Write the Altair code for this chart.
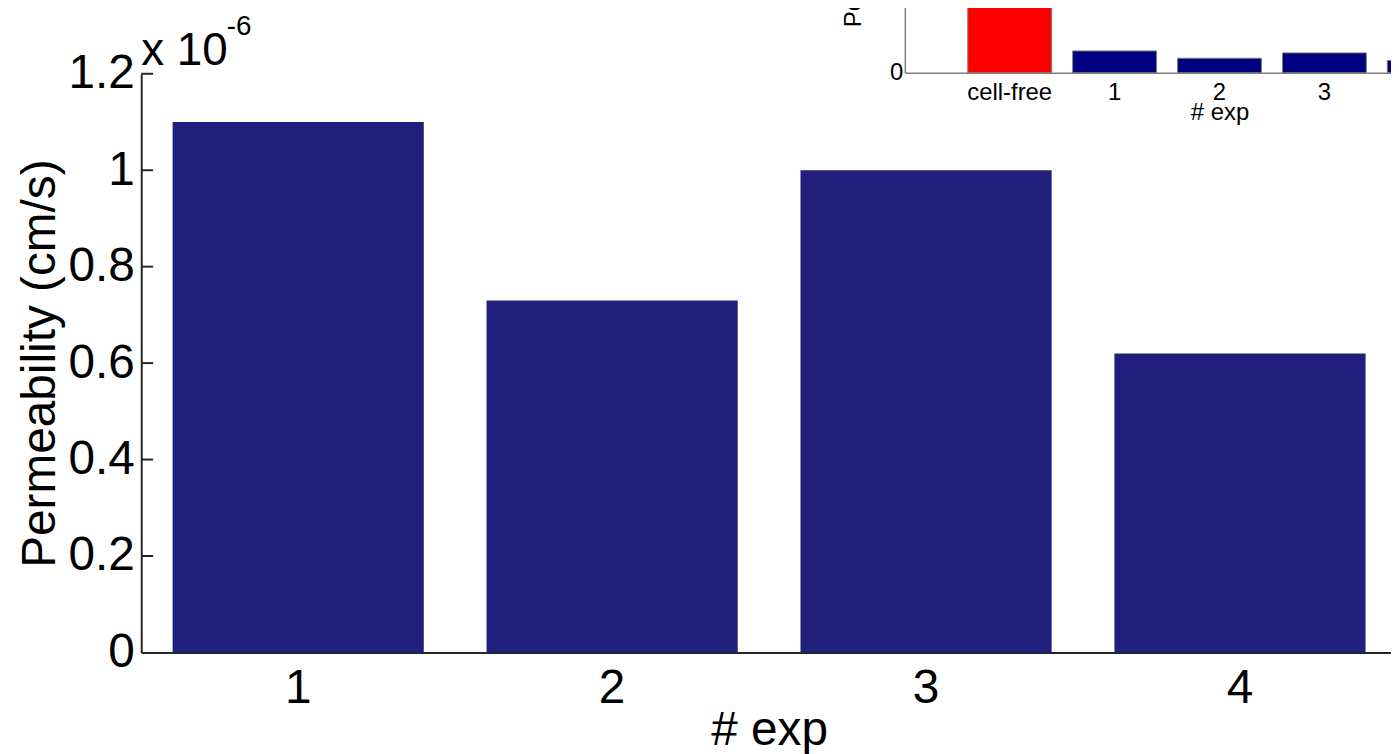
import altair as alt
import pandas as pd

# ---- data (values in units of 1e-6 cm/s) ----
exp_labels = ["1", "2", "3", "4"]
permeability = [1.10, 0.73, 1.00, 0.62]
y_tick_values = [0, 0.2, 0.4, 0.6, 0.8, 1.0, 1.2]

inset_labels = ["cell-free", "1", "2", "3", "4"]
inset_values = [6.5, 1.10, 0.73, 1.00, 0.62]
inset_colors = ["#FF0000", "#000080", "#000080", "#000080", "#000080"]

FONT = "Liberation Sans"
W, H = 1263, 582
AXIS_DARK = "#262626"
AXIS_GREY = "#7f7f7f"

main_df = pd.DataFrame({"exp": exp_labels, "perm": permeability})
tick_df = pd.DataFrame({"perm": y_tick_values[1:]})
mult_df = pd.DataFrame({"perm": [y_tick_values[-1]]})
inset_df = pd.DataFrame({"exp": inset_labels, "perm": inset_values, "color": inset_colors})

xs = alt.Scale(domain=exp_labels, paddingInner=0.2, paddingOuter=0.1)
ys = alt.Scale(domain=[0, 1.2], nice=False, zero=True)

bars = alt.Chart(main_df).mark_bar(color="#201F7C").encode(
    x=alt.X("exp:N", sort=exp_labels, scale=xs,
            axis=alt.Axis(title="# exp", labelAngle=0, labelFontSize=48, labelFont=FONT,
                          labelColor="black", labelPadding=12, ticks=False,
                          domainColor=AXIS_DARK, domainWidth=2,
                          titleFont=FONT, titleFontSize=48, titleFontWeight="normal",
                          titleColor="black", titlePadding=-5)),
    y=alt.Y("perm:Q", scale=ys,
            axis=alt.Axis(title="Permeability (cm/s)", values=y_tick_values, format="~g",
                          grid=False, ticks=False, labelFontSize=48, labelFont=FONT,
                          labelColor="black", labelPadding=7,
                          domainColor=AXIS_DARK, domainWidth=2,
                          titleFont=FONT, titleFontSize=48, titleFontWeight="normal",
                          titleColor="black", titlePadding=4)),
)

ticks = alt.Chart(tick_df).mark_rule(color=AXIS_DARK, strokeWidth=2).encode(
    y=alt.Y("perm:Q", scale=ys),
    x=alt.value(0),
    x2=alt.value(12),
)

mult_text = alt.Chart(mult_df).mark_text(
    text="x 10", align="left", baseline="alphabetic", dy=-9,
    fontSize=46, font=FONT, color="black"
).encode(x=alt.value(0), y=alt.Y("perm:Q", scale=ys))

mult_sup = alt.Chart(mult_df).mark_text(
    text="-6", align="left", baseline="alphabetic", dx=86, dy=-39,
    fontSize=28, font=FONT, color="black"
).encode(x=alt.value(0), y=alt.Y("perm:Q", scale=ys))

main = alt.layer(bars, ticks, mult_text, mult_sup)

inset = alt.Chart(inset_df).mark_bar(stroke=AXIS_GREY, strokeWidth=1).encode(
    x=alt.X("exp:N", sort=inset_labels,
            scale=alt.Scale(domain=inset_labels, range=[768, 1401],
                            paddingInner=0.2, paddingOuter=0.6),
            axis=alt.Axis(orient="bottom", offset=-583, title="# exp", labelAngle=0,
                          labelFontSize=24, labelFont=FONT, labelColor="black",
                          labelPadding=8, ticks=False,
                          domainColor=AXIS_GREY, domainWidth=1.5,
                          titleFont=FONT, titleFontSize=24, titleFontWeight="normal",
                          titleColor="black", titlePadding=-4)),
    y=alt.Y("perm:Q",
            scale=alt.Scale(domain=[0, 14.9], range=[-1, -299], nice=False, zero=True),
            axis=alt.Axis(orient="left", offset=-768, values=[0], format="~g",
                          grid=False, ticks=False, labelFontSize=24, labelFont=FONT,
                          labelColor="black", labelPadding=2,
                          domainColor=AXIS_GREY, domainWidth=1.5,
                          title="Permeability (cm/s)",
                          titleFont=FONT, titleFontSize=24, titleFontWeight="normal",
                          titleColor="black", titlePadding=24)),
    color=alt.Color("color:N", scale=None),
)

chart = alt.layer(main, inset).resolve_scale(
    x="independent", y="independent"
).properties(
    width=W, height=H,
    autosize=alt.AutoSizeParams(type="none"),
    padding={"left": 134, "top": 64, "right": -6, "bottom": 100},
    background="white",
).configure_view(stroke=None)

chart.save("out.html", embed_options={"renderer": "svg", "actions": False})
